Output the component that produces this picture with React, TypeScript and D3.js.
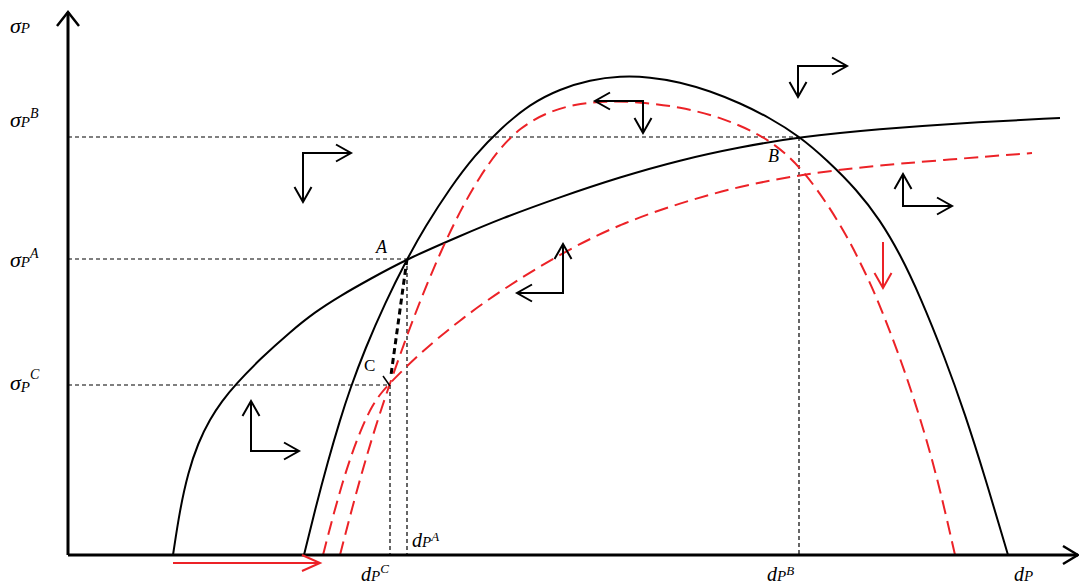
import React from "react";
import * as d3 from "d3";

type Pt = [number, number];

// curves, in chart units (x: d_P, y: sigma_P)
const blackConcave: Pt[] = [
  [105, 0], [112, 46], [120, 82], [130, 112], [142, 136], [154, 154], [167, 170],
  [192, 196], [222, 223], [247, 243], [272, 259], [302, 276], [339, 296], [392, 319],
  [432, 336], [492, 358], [552, 378], [612, 395], [672, 408], [731, 418], [812, 426],
  [892, 432], [992, 437],
];
const blackHump: Pt[] = [
  [236, 0], [247, 45], [260, 94], [272, 135], [282, 166], [297, 206], [317, 252],
  [339, 296], [357, 328], [382, 367], [407, 400], [432, 426], [462, 451], [492, 466],
  [522, 475], [552, 479], [582, 478], [612, 473], [642, 464], [672, 452], [702, 437],
  [731, 419], [759, 395], [789, 365], [812, 335], [832, 301], [852, 259], [877, 197],
  [897, 141], [917, 78], [940, 0],
];
const redHump: Pt[] = [
  [272, 0], [282, 39], [294, 83], [307, 127], [322, 172], [337, 214], [352, 254],
  [372, 302], [392, 344], [412, 379], [432, 407], [452, 427], [477, 442], [507, 451],
  [537, 454], [572, 453], [612, 448], [652, 438], [692, 421], [722, 399], [749, 367],
  [777, 323], [795, 287], [809, 257], [832, 198], [852, 138], [870, 75], [887, 0],
];
const redConcave: Pt[] = [
  [255, 0], [264, 35], [274, 71], [284, 102], [294, 128], [304, 149], [313, 162],
  [322, 172], [352, 202], [392, 235], [432, 264], [495, 303], [552, 331], [612, 352],
  [672, 369], [732, 380], [792, 388], [875, 395], [964, 402],
];
const redBase: Pt[] = [[119, 0], [255, 0]];

// equilibrium points
const pointA: Pt = [339, 296];
const pointB: Pt = [731, 418];
const pointC: Pt = [322, 170];

// direction arrows: corner, tip of horizontal arm (x), tip of vertical arm (y)
const cornerArrows = [
  { at: [235, 402], hx: 283, vy: 353 },
  { at: [495, 262], hx: 449, vy: 311 },
  { at: [575, 454], hx: 527, vy: 422 },
  { at: [730, 489], hx: 779, vy: 458 },
  { at: [835, 349], hx: 884, vy: 381 },
  { at: [183, 104], hx: 231, vy: 154 },
];
const redDown = { x: 815, from: 313, to: 267 };
const redRight = { y: -8, from: 105, to: 252 };

const RED = "#ec2227";
const FONT = "'Liberation Serif', 'DejaVu Serif', serif";

function head(tx: number, ty: number, dx: number, dy: number, len = 15, half = 8.5) {
  const bx = tx - dx * len, by = ty - dy * len;
  const px = -dy, py = dx;
  return `M${bx + px * half},${by + py * half}L${tx},${ty}L${bx - px * half},${by - py * half}`;
}

export default function App() {
  const x = d3.scaleLinear().domain([0, 1010]).range([68, 1078]);
  const y = d3.scaleLinear().domain([0, 543]).range([555, 12]);

  // smooth b-spline through the read-off points
  const line = d3.line<Pt>()
    .x(d => x(d[0]))
    .y(d => y(d[1]))
    .curve(d3.curveBasis);
  const straight = d3.line<Pt>().x(d => x(d[0])).y(d => y(d[1]));

  const x0 = x(0), y0 = y(0);

  return (
    <svg width={1079} height={588} style={{ position: "absolute", left: 0, top: 0, background: "#fff" }}
      fontFamily={FONT}>
      {/* dashed guides */}
      <g stroke="#000" strokeWidth={1.2} strokeDasharray="4,3" fill="none">
        {[pointB, pointA, pointC].map((p, i) => (
          <g key={i}>
            <line x1={x0} x2={x(p[0])} y1={y(p[1])} y2={y(p[1])} />
            <line x1={x(p[0])} x2={x(p[0])} y1={y(p[1])} y2={y0} />
          </g>
        ))}
      </g>

      {/* curves */}
      <path d={line(blackConcave)!} fill="none" stroke="#000" strokeWidth={2} />
      <path d={line(blackHump)!} fill="none" stroke="#000" strokeWidth={2} />
      <g fill="none" stroke={RED} strokeWidth={2} strokeDasharray="14,7">
        <path d={line(redHump)!} />
        <path d={line(redConcave)!} />
        <path d={straight(redBase)!} />
      </g>

      {/* A -> C path */}
      <path d={straight([pointA, [pointC[0] + 1, pointC[1] + 10]])!} stroke="#000" strokeWidth={3}
        strokeDasharray="6,4" fill="none" />
      <line x1={x(pointC[0]) - 7} y1={y(pointC[1]) - 9} x2={x(pointC[0])} y2={y(pointC[1]) + 1}
        stroke="#000" strokeWidth={1.5} />

      {/* axes */}
      <g stroke="#000" strokeWidth={3} fill="none">
        <line x1={x0} x2={x0} y1={y0} y2={y(543)} />
        <line x1={x0} x2={x(1010)} y1={y0} y2={y0} />
        <path d={head(x0, y(543), 0, -1, 14, 11)} strokeWidth={2.5} />
        <path d={head(x(1010), y0, 1, 0, 15, 9)} strokeWidth={2.5} />
      </g>

      {/* direction arrows */}
      <g stroke="#000" strokeWidth={2} fill="none">
        {cornerArrows.map((a, i) => {
          const cx = x(a.at[0]), cy = y(a.at[1]);
          const hx = x(a.hx), vy = y(a.vy);
          return (
            <g key={i}>
              <path d={`M${hx},${cy}L${cx},${cy}L${cx},${vy}`} />
              <path d={head(hx, cy, Math.sign(hx - cx), 0)} />
              <path d={head(cx, vy, 0, Math.sign(vy - cy))} />
            </g>
          );
        })}
      </g>
      <g stroke={RED} strokeWidth={2} fill="none">
        <line x1={x(redDown.x)} x2={x(redDown.x)} y1={y(redDown.from)} y2={y(redDown.to)} />
        <path d={head(x(redDown.x), y(redDown.to), 0, 1)} />
        <line x1={x(redRight.from)} x2={x(redRight.to)} y1={y(redRight.y)} y2={y(redRight.y)} />
        <path d={head(x(redRight.to), y(redRight.y), 1, 0, 18, 8)} />
      </g>

      {/* y labels */}
      <g fill="#000">
        <text x={10} y={33} fontSize={22} fontStyle="italic">σ<tspan fontSize={15}>P</tspan></text>
        <text x={10} y={y(pointB[1]) - 10} fontSize={22} fontStyle="italic">σ<tspan fontSize={15}>P</tspan>
          <tspan fontSize={14} dy={-9}>B</tspan></text>
        <text x={10} y={y(pointA[1]) + 8} fontSize={22} fontStyle="italic">σ<tspan fontSize={15}>P</tspan>
          <tspan fontSize={14} dy={-9}>A</tspan></text>
        <text x={10} y={y(pointC[1]) + 5} fontSize={22} fontStyle="italic">σ<tspan fontSize={15} dy={2}>P</tspan>
          <tspan fontSize={14} dy={-13}>C</tspan></text>

        {/* x labels */}
        <text x={x(pointA[0]) + 5} y={547} fontSize={20} fontStyle="italic">d<tspan fontSize={15}>P</tspan>
          <tspan fontSize={13} dy={-6}>A</tspan></text>
        <text x={x(pointC[0]) - 29} y={581} fontSize={20} fontStyle="italic">d<tspan fontSize={15}>P</tspan>
          <tspan fontSize={13} dy={-8}>C</tspan></text>
        <text x={x(pointB[0]) - 32} y={581} fontSize={20} fontStyle="italic">d<tspan fontSize={15}>P</tspan>
          <tspan fontSize={13} dy={-6}>B</tspan></text>
        <text x={x(946)} y={581} fontSize={20} fontStyle="italic">d<tspan fontSize={15}>P</tspan></text>

        {/* point labels */}
        <text x={x(pointA[0]) - 31} y={y(pointA[1]) - 6} fontSize={18} fontStyle="italic">A</text>
        <text x={x(pointB[0]) - 31} y={y(pointB[1]) + 25} fontSize={18} fontStyle="italic">B</text>
        <text x={x(pointC[0]) - 26} y={y(pointC[1]) - 14} fontSize={17}>C</text>
      </g>
    </svg>
  );
}
